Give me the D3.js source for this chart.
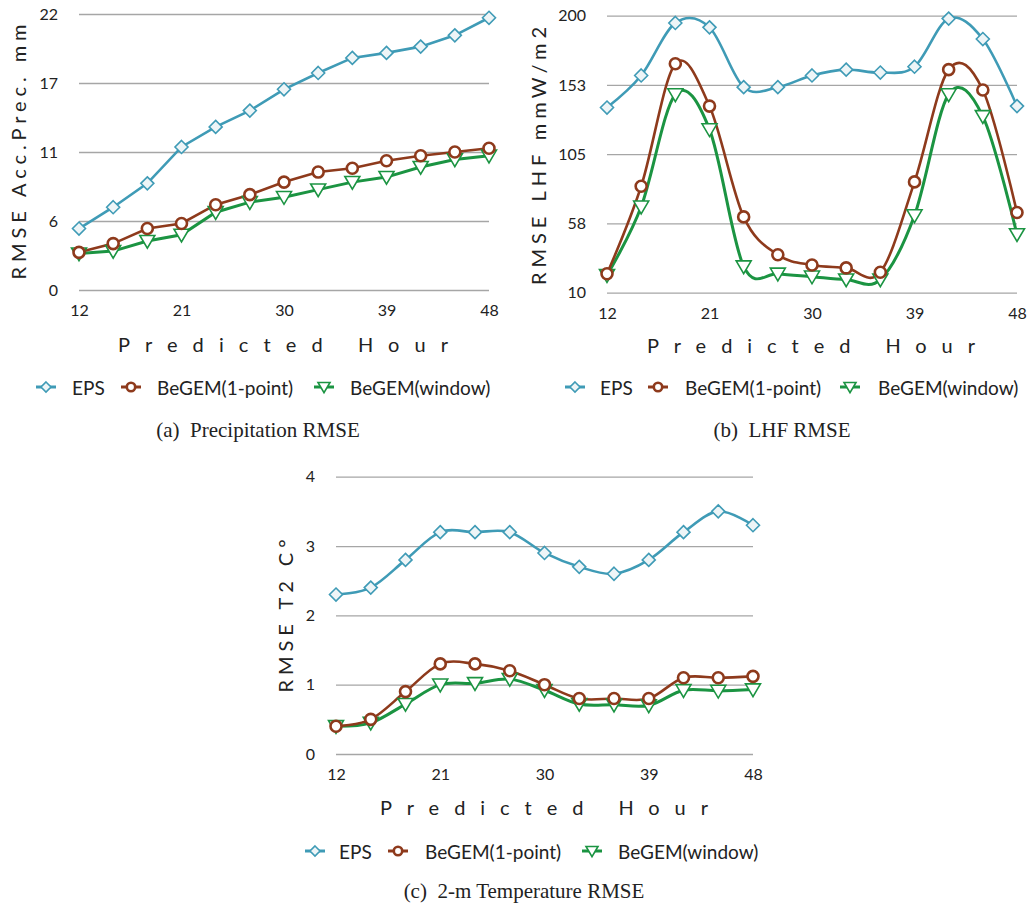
<!DOCTYPE html>
<html>
<head>
<meta charset="utf-8">
<script src="https://cdn.jsdelivr.net/npm/d3@7"></script>
<style>
  body { margin: 0; background: #fff; }
  svg { display: block; }
  .tick text { font-family: Lato, "Open Sans", sans-serif; font-size: 16px; fill: #222; }
  .grid .tick line { stroke: #a6a6a6; stroke-width: 1.3; }
  .axis-title { font-family: Lato, "Open Sans", sans-serif; font-size: 20px; fill: #222; }
  .legend text { font-family: Lato, "Open Sans", sans-serif; font-size: 19px; fill: #222; }
  .caption { font-family: "Liberation Serif", "DejaVu Serif", serif; font-size: 21px; fill: #222; }
</style>
</head>
<body>
<div id="chart"></div>
<script>
document.addEventListener('DOMContentLoaded', function() {
    drawFigure();
});

const hours = [12, 15, 18, 21, 24, 27, 30, 33, 36, 39, 42, 45, 48];
const hourTicks = [12, 21, 30, 39, 48];
const seriesNames = ['EPS', 'BeGEM(1-point)', 'BeGEM(window)'];

// (a) precipitation
const precipEps = [4.9, 6.6, 8.5, 11.4, 13.0, 14.3, 16.0, 17.3, 18.5, 18.9, 19.4, 20.3, 21.7];
const precipPoint = [3.0, 3.7, 4.9, 5.3, 6.8, 7.6, 8.6, 9.4, 9.7, 10.3, 10.7, 11.0, 11.3];
const precipWindow = [2.9, 3.1, 3.9, 4.4, 6.2, 7.0, 7.4, 8.0, 8.6, 9.0, 9.8, 10.4, 10.7];
const precipTicks = [0, 5.5, 11, 16.5, 22];
const precipTickLabels = ['0', '6', '11', '17', '22'];

// (b) latent heat flux
const lhfEps = [137, 159, 195, 192, 151, 151, 159, 163, 161, 165, 198, 184, 138];
const lhfPoint = [23, 83, 167, 138, 62, 36, 29, 27, 24, 86, 163, 149, 65];
const lhfWindow = [22, 69, 146, 122, 28, 23, 21, 19, 19, 63, 146, 131, 50];
const lhfTicks = [10, 57.5, 105, 152.5, 200];
const lhfTickLabels = ['10', '58', '105', '153', '200'];

// (c) 2-m temperature
const t2Eps = [2.3, 2.4, 2.8, 3.2, 3.2, 3.2, 2.9, 2.7, 2.6, 2.8, 3.2, 3.5, 3.3];
const t2Point = [0.4, 0.5, 0.9, 1.3, 1.3, 1.2, 1.0, 0.8, 0.8, 0.8, 1.1, 1.1, 1.12];
const t2Window = [0.4, 0.45, 0.72, 1.0, 1.02, 1.08, 0.92, 0.72, 0.71, 0.7, 0.92, 0.91, 0.93];
const t2Ticks = [0, 1, 2, 3, 4];
const t2TickLabels = ['0', '1', '2', '3', '4'];

const colors = ['#3f9bb6', '#8e3a1c', '#1b9442'];
const markerFill = ['#eef5f7', '#ffffff', '#ffffff'];

function markerPath(kind, s) {
    if (kind === 0) return `M0,${-s}L${s},0L0,${s}L${-s},0Z`;
    if (kind === 2) return `M${-s},${-s * 0.75}L${s},${-s * 0.75}L0,${s * 0.95}Z`;
    return null;
}

function drawMarker(g, kind, x, y, big) {
    if (kind === 1) {
        g.append('circle')
            .attr('cx', x).attr('cy', y)
            .attr('r', big ? 5.5 : 4.2)
            .attr('fill', markerFill[1])
            .attr('stroke', colors[1])
            .attr('stroke-width', 2.6);
    } else {
        g.append('path')
            .attr('transform', `translate(${x},${y})`)
            .attr('d', markerPath(kind, kind === 0 ? (big ? 6.5 : 5) : (big ? 7.5 : 6)))
            .attr('fill', markerFill[kind])
            .attr('stroke', colors[kind])
            .attr('stroke-width', 1.6);
    }
}

function drawPanel(svg, p) {
    const x = d3.scaleLinear().domain([12, 48]).range([p.x0, p.x1]);
    const y = d3.scaleLinear().domain([p.ticks[0], p.ticks[p.ticks.length - 1]]).range([p.yBot, p.yTop]);

    svg.append('g')
        .attr('class', 'grid')
        .attr('transform', `translate(${p.x0},0)`)
        .call(d3.axisLeft(y)
            .tickValues(p.ticks)
            .tickFormat((d, i) => p.tickLabels[i])
            .tickSize(-(p.x1 - p.x0))
            .tickPadding(21))
        .call(g => g.select('.domain').remove());

    svg.append('g')
        .attr('transform', `translate(0,${p.yBot})`)
        .call(d3.axisBottom(x).tickValues(hourTicks).tickSize(0).tickPadding(14.5))
        .call(g => g.select('.domain').remove());

    const curve = p.smooth ? d3.curveCardinal.tension(0) : d3.curveLinear;
    const line = d3.line()
        .x((d, i) => x(hours[i]))
        .y(d => y(d))
        .curve(curve);

    const order = [2, 1, 0];
    order.forEach(k => {
        svg.append('path')
            .datum(p.series[k])
            .attr('fill', 'none')
            .attr('stroke', colors[k])
            .attr('stroke-width', k === 2 ? 3 : 2.6)
            .attr('d', line);
    });
    order.forEach(k => {
        const mg = svg.append('g');
        p.series[k].forEach((v, i) => drawMarker(mg, k, x(hours[i]), y(v), true));
    });

    // axis titles
    svg.append('text')
        .attr('class', 'axis-title')
        .attr('transform', `translate(${p.yTitleX},${p.yTitleY}) rotate(-90)`)
        .attr('text-anchor', 'middle')
        .attr('textLength', p.yTitleLen)
        .attr('lengthAdjust', 'spacing')
        .text(p.yTitle);

    svg.append('text')
        .attr('class', 'axis-title')
        .attr('x', p.xTitleX)
        .attr('y', p.xTitleY)
        .attr('textLength', p.xTitleLen)
        .attr('lengthAdjust', 'spacing')
        .text('Predicted Hour');

    // legend
    const lg = svg.append('g').attr('class', 'legend');
    seriesNames.forEach((name, k) => {
        const cx = p.legendMarks[k];
        lg.append('line')
            .attr('x1', cx - 10).attr('x2', cx + 10)
            .attr('y1', p.legendY).attr('y2', p.legendY)
            .attr('stroke', colors[k])
            .attr('stroke-width', 3);
        drawMarker(lg, k, cx, p.legendY, false);
        lg.append('text')
            .attr('x', p.legendText[k])
            .attr('y', p.legendY + 8)
            .text(name);
    });

    svg.append('text')
        .attr('class', 'caption')
        .attr('x', p.captionX)
        .attr('y', p.captionY)
        .attr('text-anchor', 'middle')
        .text(p.caption);
}

function drawFigure() {
    const svg = d3.select('#chart')
        .append('svg')
        .attr('width', 1027)
        .attr('height', 907);

    drawPanel(svg, {
        x0: 79, x1: 489, yTop: 14, yBot: 290,
        ticks: precipTicks, tickLabels: precipTickLabels,
        series: [precipEps, precipPoint, precipWindow], smooth: false,
        yTitle: 'RMSE Acc.Prec. mm', yTitleX: 26, yTitleY: 152, yTitleLen: 255,
        xTitleX: 118, xTitleY: 352, xTitleLen: 330,
        legendY: 387, legendMarks: [46, 131, 324], legendText: [72, 157, 350],
        caption: '(a)\u2002Precipitation RMSE', captionX: 258, captionY: 437
    });

    drawPanel(svg, {
        x0: 607, x1: 1017, yTop: 15.7, yBot: 292.7,
        ticks: lhfTicks, tickLabels: lhfTickLabels,
        series: [lhfEps, lhfPoint, lhfWindow], smooth: true,
        yTitle: 'RMSE LHF mmW/m2', yTitleX: 546, yTitleY: 156, yTitleLen: 258,
        xTitleX: 647, xTitleY: 353, xTitleLen: 328,
        legendY: 387, legendMarks: [575, 658, 850], legendText: [600, 685, 878],
        caption: '(b)\u2002LHF RMSE', captionX: 782, captionY: 437
    });

    drawPanel(svg, {
        x0: 336, x1: 753, yTop: 476.7, yBot: 754,
        ticks: t2Ticks, tickLabels: t2TickLabels,
        series: [t2Eps, t2Point, t2Window], smooth: true,
        yTitle: 'RMSE T2 C°', yTitleX: 293, yTitleY: 616, yTitleLen: 153,
        xTitleX: 380, xTitleY: 815, xTitleLen: 328,
        legendY: 851, legendMarks: [315, 398, 592], legendText: [339, 425, 618],
        caption: '(c)\u20022-m Temperature RMSE', captionX: 524, captionY: 898
    });
}
</script>
</body>
</html>
